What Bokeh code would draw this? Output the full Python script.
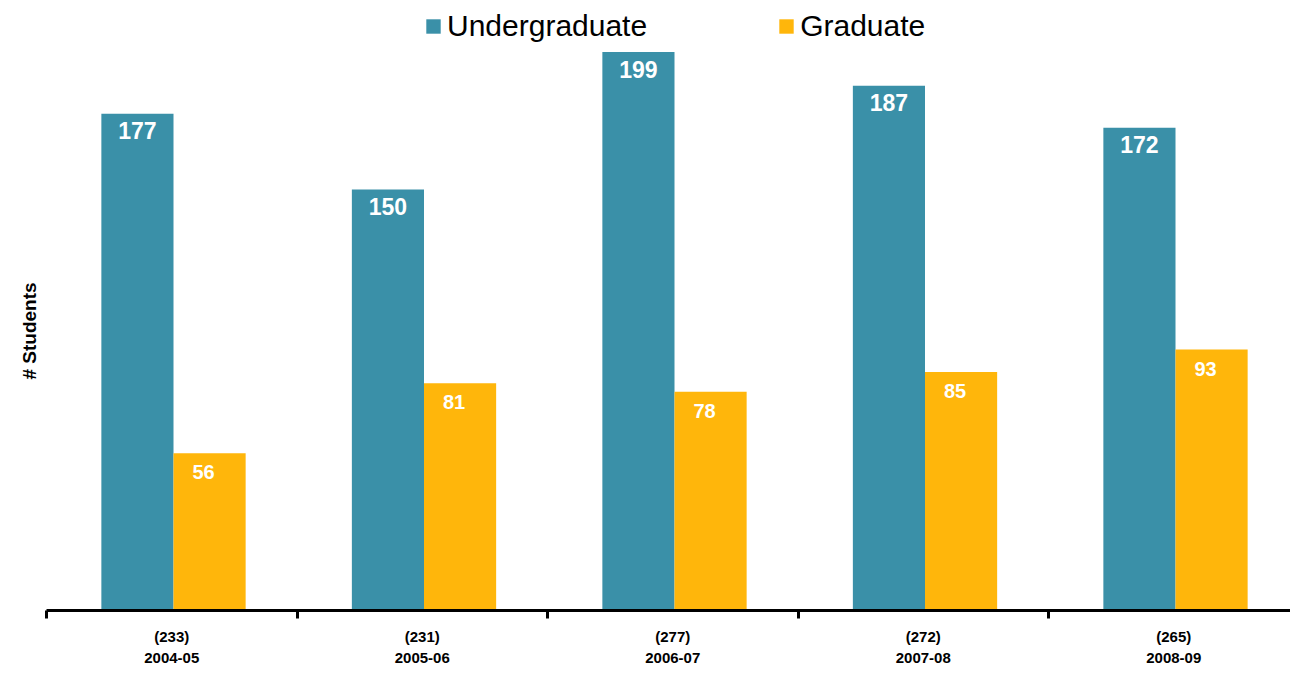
import math
from bokeh.plotting import figure
from bokeh.models import Range1d, FixedTicker, Legend, LegendItem, ColumnDataSource, Title
from bokeh.core.properties import value
from bokeh.embed import file_html
from bokeh.resources import INLINE

years = ["2004-05", "2005-06", "2006-07", "2007-08", "2008-09"]
undergraduate = [177, 150, 199, 187, 172]
graduate = [56, 81, 78, 85, 93]

TEAL = "#3A90A8"
GOLD = "#FFB60B"
FONT = "Liberation Sans"

idx = list(range(len(years)))
src = ColumnDataSource(dict(
    xu=[i + 0.363 for i in idx],
    xg=[i + 0.651 for i in idx],
    u=undergraduate,
    g=graduate,
    ut=[str(v) for v in undergraduate],
    gt=[str(v) for v in graduate],
))

FW, FH = 1244, 602
PX_PER_UNIT = 2.806
p = figure(frame_width=FW, frame_height=FH, output_backend="svg", toolbar_location=None,
           x_range=Range1d(0, FW / 250.5), y_range=Range1d(0, FH / PX_PER_UNIT),
           min_border_left=46, min_border_right=0, min_border_top=8, min_border_bottom=0)
p.outline_line_color = None
p.xgrid.visible = False
p.ygrid.visible = False
p.background_fill_color = "white"

ru = p.vbar(x="xu", top="u", width=0.288, source=src, fill_color=TEAL, line_color=None)
rg = p.vbar(x="xg", top="g", width=0.288, source=src, fill_color=GOLD, line_color=None)

p.text(x="xu", y="u", text="ut", source=src, text_color="white", text_font=value(FONT),
       text_font_style="bold", text_font_size="23px", text_align="center",
       text_baseline="middle", y_offset=17)
p.text(x="xg", y="g", text="gt", source=src, text_color="white", text_font=value(FONT),
       text_font_style="bold", text_font_size="20px", text_align="center",
       text_baseline="middle", y_offset=19, x_offset=-6)

# x axis
xa = p.xaxis[0]
xa.ticker = FixedTicker(ticks=[i + 0.5 for i in idx], minor_ticks=[i for i in range(len(years) + 1)])
xa.major_label_overrides = {i + 0.5: f"({undergraduate[i] + graduate[i]})\n{years[i]}" for i in idx}
xa.axis_line_width = 3
xa.axis_line_color = "black"
xa.major_tick_out = 0
xa.major_tick_in = 0
xa.minor_tick_out = 8
xa.minor_tick_in = 0
xa.minor_tick_line_width = 3
xa.minor_tick_line_color = "black"
xa.major_label_text_font = FONT
xa.major_label_text_font_style = "bold"
xa.major_label_text_font_size = "15px"
xa.major_label_text_color = "black"
xa.major_label_text_line_height = 1.25
xa.major_label_standoff = 9

# y axis (hidden) and its title in the left panel
ya = p.yaxis[0]
ya.visible = False
p.add_layout(Title(text="# Students", align="left", offset=231, standoff=14,
                   text_font=FONT, text_font_style="bold", text_font_size="19px",
                   text_color="black"), "left")

legend = Legend(items=[LegendItem(label="Undergraduate", renderers=[ru]),
                       LegendItem(label="Graduate", renderers=[rg])],
                orientation="horizontal", location=(378, 567),
                glyph_width=18, glyph_height=18, label_standoff=5, spacing=130,
                padding=0, margin=0, border_line_color=None, background_fill_alpha=0,
                label_text_font=FONT, label_text_font_size="30px", label_text_color="black")
p.add_layout(legend, "center")

open("out.html", "w").write(file_html(p, INLINE))
